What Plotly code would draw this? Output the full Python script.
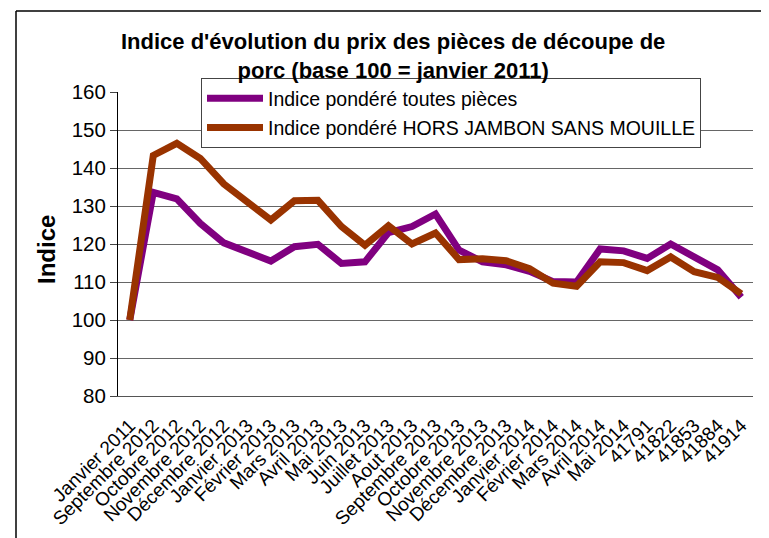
import plotly.graph_objects as go

categories = ["Janvier 2011", "Septembre 2012", "Octobre 2012", "Novembre 2012", "Décembre 2012",
              "Janvier 2013", "Février 2013", "Mars 2013", "Avril 2013", "Mai 2013", "Juin 2013",
              "Juillet 2013", "Aout 2013", "Septembre 2013", "Octobre 2013", "Novembre 2013",
              "Décembre 2013", "Janvier 2014", "Février 2014", "Mars 2014", "Avril 2014", "Mai 2014",
              "41791", "41822", "41853", "41884", "41914"]

toutes_pieces = [100, 133.6, 131.9, 125.4, 120.3, 117.9, 115.5, 119.3, 119.9, 114.9, 115.3,
                 123.0, 124.6, 127.9, 118.4, 115.3, 114.5, 112.8, 110.1, 110.0, 118.7, 118.2,
                 116.2, 120.0, 116.5, 113.2, 106.0]

hors_jambon = [100, 143.3, 146.5, 142.5, 135.8, 131.0, 126.3, 131.4, 131.5, 124.6, 119.7,
               124.8, 120.0, 122.9, 115.9, 116.1, 115.6, 113.5, 109.7, 108.9, 115.3, 115.1,
               113.0, 116.6, 112.7, 111.2, 106.9]

series_names = ["Indice pondéré toutes pièces", "Indice pondéré HORS JAMBON SANS MOUILLE"]
series_colors = ["#800080", "#993300"]

FONT = "Arial, 'Liberation Sans', sans-serif"

# page body has an 8px margin; plot area in page pixels: x 118..753, y 92..396
PW, PH = 635, 304
def px(x):
    return (x - 118) / PW
def py(y):
    return (396 - y) / PH

fig = go.Figure()
for i, (name, vals, col) in enumerate(zip(series_names, [toutes_pieces, hors_jambon], series_colors)):
    fig.add_trace(go.Scatter(
        x=categories, y=vals, mode="lines", name=name,
        line=dict(color=col, width=7), legendgroup=f"g{i}"))

fig.update_layout(
    width=761, height=530,
    margin=dict(l=110, r=16, t=84, b=142, autoexpand=False),
    paper_bgcolor="white", plot_bgcolor="white",
    font=dict(family=FONT, color="black"),
    showlegend=True,
    legend=dict(x=px(201), xanchor="left", y=py(78), yanchor="top",
                bordercolor="#444", borderwidth=1, bgcolor="white",
                font=dict(size=19.5, family=FONT, color="black"),
                traceorder="grouped", tracegroupgap=1, itemwidth=56),
    xaxis=dict(type="category", tickangle=-45, tickfont=dict(size=19, family=FONT),
               showgrid=False, showline=True, linecolor="#555", linewidth=1, ticks="",
               range=[-0.5, len(categories) - 0.5], automargin=False, ticklabelstandoff=10),
    yaxis=dict(range=[80, 160], dtick=10, tickfont=dict(size=20.5, family=FONT),
               showgrid=True, gridcolor="#666", gridwidth=1,
               showline=True, linecolor="black", linewidth=1,
               ticks="outside", ticklen=7, tickcolor="#444", zeroline=False, automargin=False),
    annotations=[
        dict(text="<b>Indice d'évolution du prix des pièces de découpe de<br>porc (base 100 = janvier 2011)</b>",
             xref="paper", yref="paper", x=px(393), y=py(56), xanchor="center", yanchor="middle",
             showarrow=False, font=dict(size=22, family=FONT, color="black")),
        dict(text="<b>Indice</b>", xref="paper", yref="paper",
             x=px(46), y=py(250), xanchor="center", yanchor="middle", textangle=-90,
             showarrow=False, font=dict(size=24, family=FONT, color="black"))],
    shapes=[
        dict(type="line", xref="paper", yref="paper", x0=px(16), x1=px(775),
             y0=py(11), y1=py(11), line=dict(color="black", width=1.5)),
        dict(type="line", xref="paper", yref="paper", x0=px(16), x1=px(16),
             y0=py(11), y1=py(545), line=dict(color="black", width=1.5)),
    ],
)

fig.write_html("out.html")
